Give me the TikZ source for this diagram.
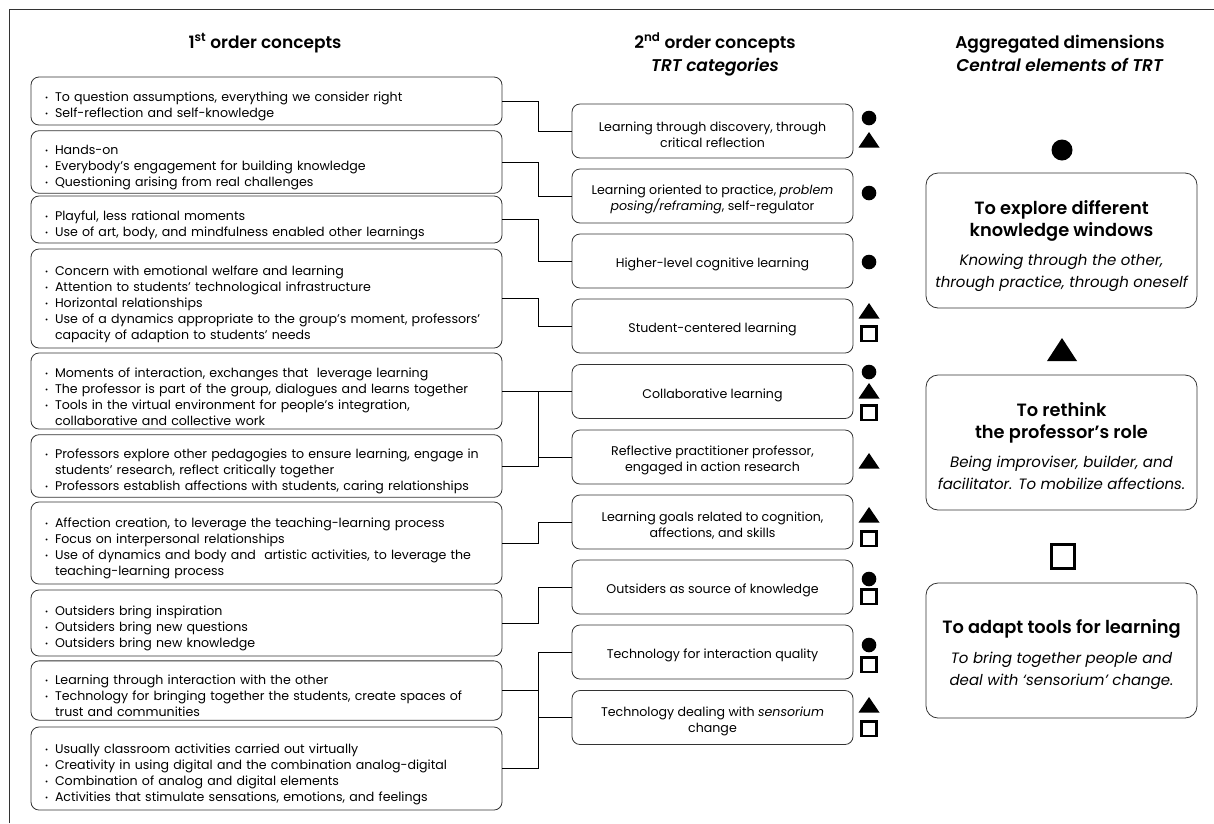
\documentclass[tikz,border=0pt]{standalone}
\usepackage{fontspec}
\setmainfont{Poppins}[BoldFont={Poppins SemiBold},BoldItalicFont={Poppins SemiBold Italic}]
\newcommand\bi[1]{\par\hangindent=10pt\hangafter=1\noindent\makebox[10pt][l]{\raisebox{0.15ex}{\scalebox{0.6}{•}}}#1\par}
\newcommand\rtf{\bfseries\fontsize{17.8}{22}\selectfont}
\newcommand\rsf{\itshape\fontsize{15}{22}\selectfont}
\begin{document}
\begin{tikzpicture}[x=1pt,y=-1pt,
  frame/.style={draw=black!80,line width=0.8pt},
  lbox/.style={draw=black!80,line width=0.8pt,rounded corners=8pt,minimum width=471pt,text width=443pt,inner xsep=14pt,align=left,font=\fontsize{12.6}{16}\selectfont,execute at begin node={\vspace*{4.5pt}}},
  mbox/.style={draw=black!80,line width=0.8pt,rounded corners=8pt,minimum width=281pt,minimum height=54pt},
  mtext/.style={align=center,inner sep=0pt,font=\fontsize{12.6}{16}\selectfont},
  rbox/.style={draw=black!80,line width=0.8pt,rounded corners=12pt,minimum width=271pt,minimum height=135pt},
  rtext/.style={align=center,inner sep=0pt,font=\fontsize{15}{22}\selectfont},
  head/.style={font=\bfseries\fontsize{17}{23}\selectfont,align=center},
  conn/.style={draw=black,line width=0.8pt},
  sq/.style={draw=black,line width=2.6pt}]
\useasboundingbox (0,0) rectangle (1214,823);
\fill[white] (0,0) rectangle (1214,823);
\draw[frame] (9,823) -- (9,9) -- (1214,9);

% headers
\node[head] (h1) at (265,43) {1\textsuperscript{st} order concepts};
\node[head] (h2) at (715,54.5) {2\textsuperscript{nd} order concepts\\ \textit{TRT categories}};
\node[head] (h3) at (1060,53.5) {Aggregated dimensions\\ \textit{Central elements of TRT}};

% left boxes
\node[lbox,minimum height=48pt] (a1) at (266.5,101) {\bi{To question assumptions, everything we consider right}\bi{Self-reflection and self-knowledge}};
\node[lbox,minimum height=60pt] (a2) at (266.5,162) {\bi{Hands-on}\bi{Everybody’s engagement for building knowledge}\bi{Questioning arising from real challenges}};
\node[lbox,minimum height=47pt] (a3) at (266.5,219.5) {\bi{Playful, less rational moments}\bi{Use of art, body, and mindfulness enabled other learnings}};
\node[lbox,minimum height=99pt] (a4) at (266.5,298.5) {\bi{Concern with emotional welfare and learning}\bi{Attention to students’ technological infrastructure}\bi{Horizontal relationships}\bi{Use of a dynamics appropriate to the group’s moment, professors’\newline capacity of adaption to students’ needs}};
\node[lbox,minimum height=76pt] (a5) at (266.5,391) {\bi{Moments of interaction, exchanges that\ \ leverage learning}\bi{The professor is part of the group, dialogues and learns together}\bi{Tools in the virtual environment for people’s integration,\newline collaborative and collective work}};
\node[lbox,minimum height=60pt] (a6) at (266.5,466) {\bi{Professors explore other pedagogies to ensure learning, engage in\newline students’ research, reflect critically together}\bi{Professors establish affections with students, caring relationships}};
\node[lbox,minimum height=82pt] (a7) at (266.5,543) {\bi{Affection creation, to leverage the teaching-learning process}\bi{Focus on interpersonal relationships}\bi{Use of dynamics and body and\ \ artistic activities, to leverage the\newline teaching-learning process}};
\node[lbox,minimum height=66pt] (a8) at (266.5,623) {\bi{Outsiders bring inspiration}\bi{Outsiders bring new questions}\bi{Outsiders bring new knowledge}};
\node[lbox,minimum height=59pt] (a9) at (266.5,690.5) {\bi{Learning through interaction with the other}\bi{Technology for bringing together the students, create spaces of\newline trust and communities}};
\node[lbox,minimum height=83pt] (a10) at (266.5,768.5) {\bi{Usually classroom activities carried out virtually}\bi{Creativity in using digital and the combination analog-digital}\bi{Combination of analog and digital elements}\bi{Activities that stimulate sensations, emotions, and feelings}};

% middle boxes
\node[mbox] (m1) at (712.5,131) {};
\node[mbox] (m2) at (712.5,196) {};
\node[mbox] (m3) at (712.5,261) {};
\node[mbox] (m4) at (712.5,326) {};
\node[mbox] (m5) at (712.5,391.5) {};
\node[mbox] (m6) at (712.5,457) {};
\node[mbox] (m7) at (712.5,522) {};
\node[mbox] (m8) at (712.5,587) {};
\node[mbox] (m9) at (712.5,652) {};
\node[mbox] (m10) at (712.5,717.5) {};
\node[mtext] (t1) at ([yshift=-3.5pt]m1.center) {Learning through discovery, through\\ critical reflection};
\node[mtext] (t2) at ([yshift=-3.5pt]m2.center) {Learning oriented to practice, \textit{problem}\\ \textit{posing/reframing}, self-regulator};
\node[mtext] (t3) at ([yshift=-3.5pt]m3.center) {Higher-level cognitive learning};
\node[mtext] (t4) at ([yshift=-3.5pt]m4.center) {Student-centered learning};
\node[mtext] (t5) at ([yshift=-3.5pt]m5.center) {Collaborative learning};
\node[mtext] (t6) at ([yshift=-3.5pt]m6.center) {Reflective practitioner professor,\\ engaged in action research};
\node[mtext] (t7) at ([yshift=-3.5pt]m7.center) {Learning goals related to cognition,\\ affections, and skills};
\node[mtext] (t8) at ([yshift=-3.5pt]m8.center) {Outsiders as source of knowledge};
\node[mtext] (t9) at ([yshift=-3.5pt]m9.center) {Technology for interaction quality};
\node[mtext] (t10) at ([yshift=-3.5pt]m10.center) {Technology dealing with \textit{sensorium}\\ change};

% connectors
\draw[conn] (a1.east) -- ++(35.5,0) |- (m1.west);
\draw[conn] (a2.east) -- ++(35.5,0) |- (m2.west);
\draw[conn] (a3.east) -- ++(35.5,0) |- (m3.west);
\draw[conn] (a4.east) -- ++(35.5,0) |- (m4.west);
\draw[conn] (a5.east) -- (a5.east -| m5.west);
\draw[conn] (a6.east) -- ++(36,0) coordinate (j1) |- (m6.west);
\draw[conn] (j1) -- (j1 |- a5.east);
\draw[conn] (a7.east) -- ++(35.5,0) |- (m7.west);
\draw[conn] (a8.east) -- ++(35.5,0) |- (m8.west);
\draw[conn] (a10.east) -- ++(36,0) coordinate (j2) |- (m9.west);
\draw[conn] (a9.east) -- (a9.east -| j2);
\draw[conn] (j2 |- m10.west) -- (m10.west);

% right boxes
\node[rbox] (r1) at (1061.5,240.5) {};
\node[rbox] (r2) at (1061.5,442.5) {};
\node[rbox] (r3) at (1061.5,650.5) {};
\node[rtext] (s1) at (1061.5,246.5) {\rtf To explore different\\ \rtf knowledge windows\\[7pt] \rsf Knowing through the other,\\ \rsf through practice, through oneself};
\node[rtext] (s2) at (1061.5,446) {\rtf To rethink\\ \rtf the professor’s role\\[7pt] \rsf Being improviser, builder, and\\ \rsf facilitator. To mobilize affections.};
\node[rtext] (s3) at (1061.5,654.5) {\rtf To adapt tools for learning\\[8pt] \rsf To bring together people and\\ \rsf deal with ‘sensorium’ change.};

% small symbols
\newcommand\dotc[1]{\fill (869,#1) circle (7.3);}
\newcommand\tri[1]{\fill (858.5,#1+15.5) -- (879.5,#1+15.5) -- (869,#1) -- cycle;}
\newcommand\sqr[1]{\draw[sq] (861.3,#1+1.3) rectangle (876.7,#1+15.9);}
\dotc{118}\tri{132}
\dotc{193}
\dotc{262}
\tri{303}\sqr{325}
\dotc{372}\tri{383}\sqr{404}
\tri{453}
\tri{507}\sqr{530}
\dotc{579}\sqr{588}
\dotc{645}\sqr{656}
\tri{697}\sqr{720}

% large symbols
\fill (1062,150) circle (10.5);
\fill (1047,361) -- (1077,361) -- (1062,338) -- cycle;
\draw[line width=3.2pt] (1051.5,544.5) rectangle (1074.5,568.5);
\end{tikzpicture}
\end{document}
